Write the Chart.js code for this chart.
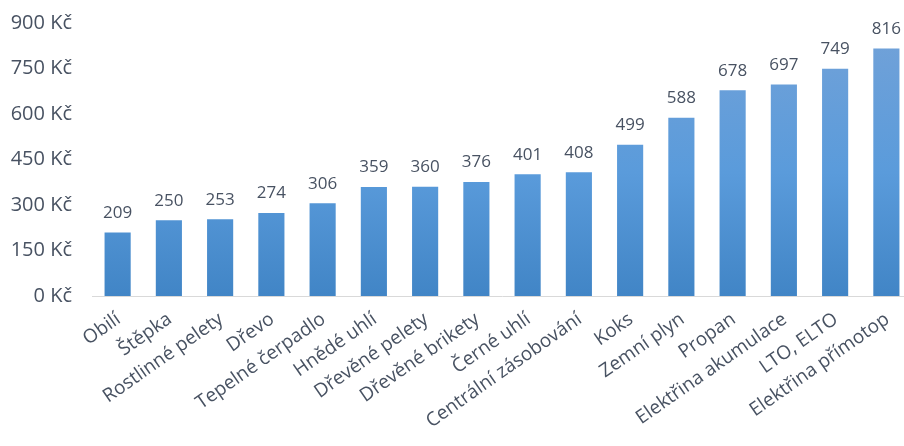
<!DOCTYPE html>
<html>
<head>
<meta charset="utf-8">
<script src="https://cdn.jsdelivr.net/npm/chart.js@4"></script>
<style>
  html, body { margin: 0; padding: 0; background: #fff; overflow: hidden; }
  #wrap { width: 912px; height: 446px; }
</style>
</head>
<body>
<div id="wrap"><canvas id="costChart" width="912" height="446"></canvas></div>
<script>
// ---- Data: annual heating cost per fuel ----
const fuels = ['Obilí', 'Štěpka', 'Rostlinné pelety', 'Dřevo', 'Tepelné čerpadlo', 'Hnědé uhlí',
  'Dřevěné pelety', 'Dřevěné brikety', 'Černé uhlí', 'Centrální zásobování', 'Koks', 'Zemní plyn',
  'Propan', 'Elektřina akumulace', 'LTO, ELTO', 'Elektřina přímotop'];
const costs = [209, 250, 253, 274, 306, 359, 360, 376, 401, 408, 499, 588, 678, 697, 749, 816];
const yTicks = [0, 150, 300, 450, 600, 750, 900];

const textColor = '#485262';

// vertical gradient for bars, lighter at the top
function barGradient(ctx) {
  const area = ctx.chart.chartArea;
  if (!area) return '#5b9bd5';
  const g = ctx.chart.ctx.createLinearGradient(0, area.top, 0, area.bottom);
  g.addColorStop(0, '#73a2d8');
  g.addColorStop(0.55, '#5a9bdb');
  g.addColorStop(1, '#4185c6');
  return g;
}

// value labels above each bar
const valueLabels = {
  id: 'valueLabels',
  afterDatasetsDraw(chart) {
    const c = chart.ctx;
    const meta = chart.getDatasetMeta(0);
    c.save();
    c.font = '17px "Open Sans"';
    c.fillStyle = textColor;
    c.textAlign = 'center';
    c.textBaseline = 'bottom';
    meta.data.forEach(function(bar, i) {
      c.fillText(String(costs[i]), bar.x, bar.y - 11);
    });
    c.restore();
  }
};

new Chart(document.getElementById('costChart'), {
  type: 'bar',
  data: {
    labels: fuels,
    datasets: [{
      data: costs,
      backgroundColor: barGradient,
      borderWidth: 0,
      categoryPercentage: 1,
      barPercentage: 0.51
    }]
  },
  options: {
    responsive: false,
    animation: false,
    layout: { padding: { top: 23, right: 0, left: 0, bottom: 0 } },
    plugins: { legend: { display: false }, tooltip: { enabled: false } },
    scales: {
      x: {
        grid: { display: false },
        border: { display: true, color: '#d9d9d9', width: 1 },
        ticks: {
          color: textColor,
          font: { family: 'Open Sans', size: 19 },
          minRotation: 35,
          maxRotation: 35,
          autoSkip: false,
          padding: 4,
          labelOffset: 1
        },
        afterFit: function(scale) { scale.height = 150; }
      },
      y: {
        min: 0,
        max: 900,
        grid: { display: false },
        border: { display: false },
        afterBuildTicks: function(scale) {
          scale.ticks = yTicks.map(function(v) { return { value: v }; });
        },
        ticks: {
          color: textColor,
          font: { family: 'Open Sans', size: 20 },
          padding: 12,
          callback: function(v) { return v + ' Kč'; }
        },
        afterFit: function(scale) {
          scale.width = 92;
          // keep the plot top fixed by the layout padding
          scale.paddingTop = 0;
          scale.paddingBottom = 0;
        }
      }
    }
  },
  plugins: [valueLabels]
});
</script>
</body>
</html>
